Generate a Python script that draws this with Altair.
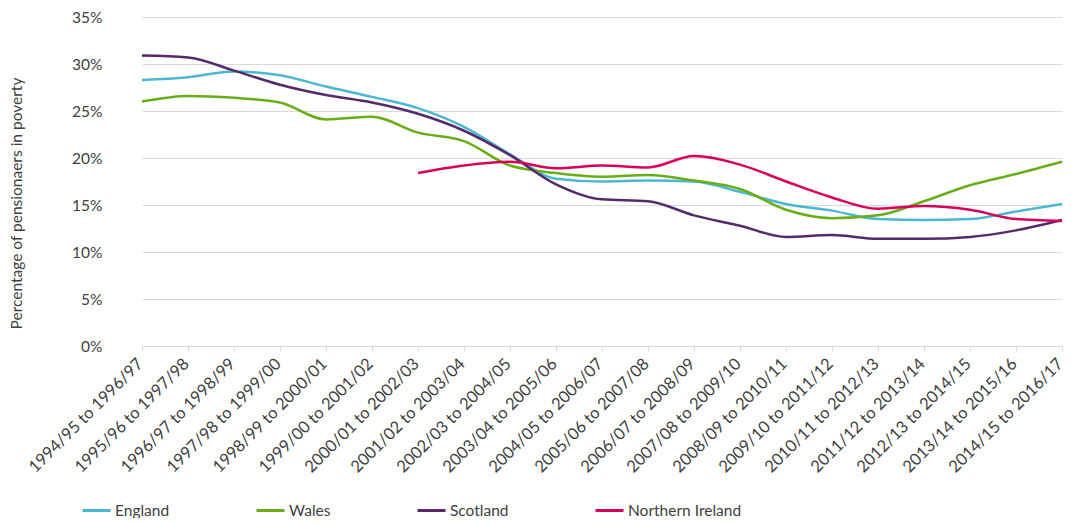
import altair as alt
import pandas as pd

periods = [
    "1994/95 to 1996/97", "1995/96 to 1997/98", "1996/97 to 1998/99",
    "1997/98 to 1999/00", "1998/99 to 2000/01", "1999/00 to 2001/02",
    "2000/01 to 2002/03", "2001/02 to 2003/04", "2002/03 to 2004/05",
    "2003/04 to 2005/06", "2004/05 to 2006/07", "2005/06 to 2007/08",
    "2006/07 to 2008/09", "2007/08 to 2009/10", "2008/09 to 2010/11",
    "2009/10 to 2011/12", "2010/11 to 2012/13", "2011/12 to 2013/14",
    "2012/13 to 2014/15", "2013/14 to 2015/16", "2014/15 to 2016/17",
]

england = [28.3, 28.6, 29.2, 28.8, 27.6, 26.5, 25.3, 23.3, 20.4, 17.8, 17.5,
           17.6, 17.5, 16.4, 15.1, 14.4, 13.5, 13.4, 13.5, 14.3, 15.1]
wales = [26.0, 26.6, 26.4, 25.9, 24.1, 24.4, 22.7, 21.8, 19.2, 18.4, 18.0,
         18.2, 17.6, 16.7, 14.5, 13.6, 13.9, 15.4, 17.1, 18.3, 19.6]
scotland = [30.9, 30.7, 29.3, 27.8, 26.7, 25.9, 24.7, 22.9, 20.3, 17.2, 15.6,
            15.4, 13.9, 12.8, 11.6, 11.8, 11.4, 11.4, 11.6, 12.3, 13.4]
# Northern Ireland starts with 2000/01 to 2002/03
northern_ireland = [None] * 6 + [18.4, 19.2, 19.6, 18.9, 19.2, 19.0, 20.2,
                                 19.3, 17.5, 15.8, 14.6, 14.9, 14.5, 13.5, 13.3]

countries = ["England", "Wales", "Scotland", "Northern Ireland"]
colours = ["#4bb7d0", "#69ad19", "#542a6b", "#d9005a"]

rows = []
for name, vals in zip(countries, [england, wales, scotland, northern_ireland]):
    for p, v in zip(periods, vals):
        if v is not None:
            rows.append({"period": p, "country": name, "value": v})
df = pd.DataFrame(rows)

font = "Lato"
txt = "#404040"

chart = alt.Chart(df).mark_line(strokeWidth=2.5, interpolate="monotone").encode(
    x=alt.X("period:N", sort=periods, title=None,
            scale=alt.Scale(type="point", range=[24, 944], padding=0),
            axis=alt.Axis(labelAngle=-45, labelAlign="right", labelBaseline="middle",
                          labelPadding=10, labelOffset=-2, domain=False, ticks=True,
                          tickSize=5, tickColor="#d9d9d9", grid=False,
                          labelFontSize=16.5, labelColor=txt, labelFont=font)),
    y=alt.Y("value:Q", title="Percentage of pensionaers in poverty",
            scale=alt.Scale(domain=[0, 35], nice=False),
            axis=alt.Axis(values=[0, 5, 10, 15, 20, 25, 30, 35],
                          labelExpr="datum.value + '%'", domain=False, ticks=False,
                          labelPadding=16, gridColor="#d9d9d9", labelFontSize=15.5,
                          labelColor=txt, labelFont=font, titleFont=font,
                          titleFontSize=15.5, titleFontWeight="normal",
                          titleColor=txt, titleX=-94, titleY=186,
                          titleBaseline="bottom")),
    color=alt.Color("country:N", sort=countries,
                    scale=alt.Scale(domain=countries, range=colours),
                    legend=alt.Legend(orient="none", legendX=-37, legendY=478,
                                      direction="horizontal", title=None,
                                      symbolType="stroke", symbolSize=784,
                                      symbolStrokeWidth=3, labelOffset=3,
                                      columnPadding=80, padding=0,
                                      labelFont=font, labelFontSize=15.5,
                                      labelColor=txt)),
).properties(
    width=948, height=329, autosize="none",
    padding={"left": 110, "top": 9, "right": 0, "bottom": 172},
)

chart = chart.configure_view(stroke=None)

chart.save("out.html", embed_options={"renderer": "svg", "actions": False})
